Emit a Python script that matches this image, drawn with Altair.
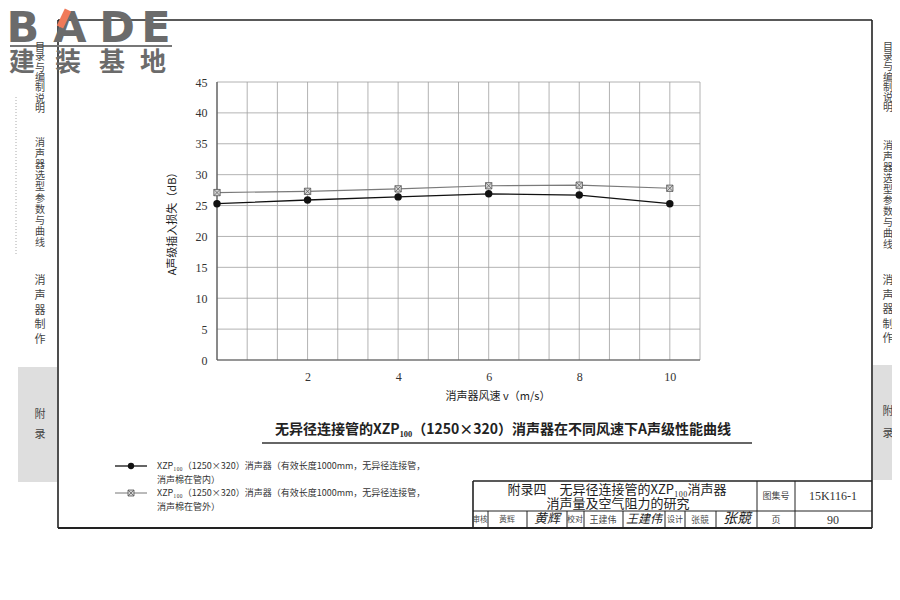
import altair as alt
import pandas as pd

# ---------------- data ----------------
speed = [0, 2, 4, 6, 8, 10]
loss_inside = [25.3, 25.9, 26.4, 26.9, 26.7, 25.3]
loss_outside = [27.1, 27.3, 27.7, 28.2, 28.3, 27.8]
x_tick_values = [2, 4, 6, 8, 10]
y_tick_values = [0, 5, 10, 15, 20, 25, 30, 35, 40, 45]
x_max = 32 / 3
x_grid_values = [i * 2 / 3 for i in range(17)]

x_title = "消声器风速 v（m/s）"
y_title = "A声级插入损失（dB）"
caption = "无异径连接管的XZP₁₀₀（1250×320）消声器在不同风速下A声级性能曲线"
legend_line1 = "XZP₁₀₀（1250×320）消声器（有效长度1000mm，无异径连接管，"
legend_inside = "消声棉在管内）"
legend_outside = "消声棉在管外）"

CJK = "Noto Sans CJK SC"
SERIF = "Liberation Serif"

# ---------------- layout (page pixels) ----------------
PX0, PY0 = 217, 82          # plot origin on page
W, H = 483, 278             # plot size
PAD = {"left": PX0 - 8, "top": PY0 - 8, "right": 884 - (PX0 - 8) - W, "bottom": 584 - (PY0 - 8) - H}

one = pd.DataFrame({"k": [0]})
decor = []


def P(x, y):
    return x - PX0, y - PY0


def text(x, y, t, size=10, font=CJK, color="#333", align="center", angle=0,
         weight="normal", style="normal", baseline="middle", line_height=None):
    dx, dy = P(x, y)
    kw = dict(text=t, fontSize=size, font=font, color=color, align=align,
              baseline=baseline, angle=angle, fontWeight=weight, fontStyle=style)
    if line_height:
        kw["lineBreak"] = "\n"
        kw["lineHeight"] = line_height
    decor.append(alt.Chart(one).mark_text(**kw).encode(x=alt.value(dx), y=alt.value(dy)))


def rule(x1, y1, x2, y2, color="#222", w=1.0, dash=None):
    a, b = P(x1, y1)
    c, d = P(x2, y2)
    kw = dict(color=color, strokeWidth=w)
    if dash:
        kw["strokeDash"] = dash
    decor.append(
        alt.Chart(one).mark_rule(**kw)
        .encode(x=alt.value(a), y=alt.value(b), x2=alt.value(c), y2=alt.value(d))
    )


def rect(x1, y1, x2, y2, fill):
    a, b = P(x1, y1)
    c, d = P(x2, y2)
    decor.append(
        alt.Chart(one).mark_rect(color=fill)
        .encode(x=alt.value(a), y=alt.value(b), x2=alt.value(c), y2=alt.value(d))
    )


def vtext(x, y0, step, s, size=10):
    # first line is centred at y0, following lines step downward
    text(x, y0, "\n".join(s), size=size, color="#444", line_height=step)


def marker(x, y, **kw):
    dx, dy = P(x, y)
    decor.append(alt.Chart(one).mark_point(opacity=1, **kw)
                 .encode(x=alt.value(dx), y=alt.value(dy)))


# ---------------- plot layers ----------------
xs = alt.Scale(domain=[0, x_max], nice=False, zero=False)
ys = alt.Scale(domain=[0, 45], nice=False, zero=False)
xaxis = alt.Axis(values=x_tick_values, title=None, grid=False, ticks=False, domain=False,
                 labelFont=SERIF, labelFontSize=12, labelColor="#333", labelPadding=11)
yaxis = alt.Axis(values=y_tick_values, title=None, grid=False, ticks=False, domain=False,
                 labelFont=SERIF, labelFontSize=12, labelColor="#333", labelPadding=10)

df_in = pd.DataFrame({"v": speed, "loss": loss_inside})
df_out = pd.DataFrame({"v": speed, "loss": loss_outside})

grid_v = alt.Chart(pd.DataFrame({"g": x_grid_values})).mark_rule(
    color="#a0a0a0", strokeWidth=0.8).encode(x=alt.X("g:Q", scale=xs, axis=xaxis))
grid_h = alt.Chart(pd.DataFrame({"h": y_tick_values})).mark_rule(
    color="#a0a0a0", strokeWidth=0.8).encode(y=alt.Y("h:Q", scale=ys, axis=yaxis))
border_l = alt.Chart(pd.DataFrame({"g": [0]})).mark_rule(
    color="#555", strokeWidth=1.2).encode(x=alt.X("g:Q", scale=xs, axis=xaxis))
border_b = alt.Chart(pd.DataFrame({"h": [0]})).mark_rule(
    color="#555", strokeWidth=1.2).encode(y=alt.Y("h:Q", scale=ys, axis=yaxis))

XPATH = "M-1,-1L1,1M1,-1L-1,1"
enc = dict(x=alt.X("v:Q", scale=xs, axis=xaxis), y=alt.Y("loss:Q", scale=ys, axis=yaxis))
line_out = alt.Chart(df_out).mark_line(color="#7a7a7a", strokeWidth=1.1).encode(**enc)
sq_out = alt.Chart(df_out).mark_point(shape="square", filled=True, fill="#d4d4d4",
                                      stroke="#555", strokeWidth=0.8, size=40,
                                      opacity=1).encode(**enc)
x_out = alt.Chart(df_out).mark_point(shape=XPATH, filled=False,
                                     color="#555", strokeWidth=0.7, size=40,
                                     opacity=1).encode(**enc)
line_in = alt.Chart(df_in).mark_line(color="#111", strokeWidth=1.3).encode(**enc)
pts_in = alt.Chart(df_in).mark_point(shape="circle", filled=True, color="#111",
                                     size=55, opacity=1).encode(**enc)

# ---------------- decorations ----------------
# page frame
rule(58, 20, 872, 20, w=1.6)
rule(58, 20, 58, 528, w=1.6)
rule(872, 20, 872, 528, w=1.6)
rule(58, 528, 872, 528, w=1.8)

# logo
for cx, ch in zip([23, 70, 117, 156], "BADE"):
    text(cx, 42, ch, size=43, font="DejaVu Sans", weight="bold", color="#6b6b6b",
         baseline="alphabetic")
rule(60, 27, 68, 10, color="#f07a5a", w=7)
rule(10, 46, 172, 46, color="#777", w=2)
for cx, ch in zip([22, 68, 112, 153], "建装基地"):
    text(cx, 63, ch, size=26, weight="bold", color="#6b6b6b")

# side tabs
rule(16, 97, 16, 255, color="#aaa", w=1, dash=[1, 2])
rect(18, 367, 57, 482, "#dedede")
vtext(40, 47, 10.3, "目录与编制说明")
vtext(40, 143, 11.1, "消声器选型参数与曲线")
vtext(40, 281, 14.8, "消声器制作", size=11)
vtext(40, 415, 20, "附录", size=11)
rect(873, 365, 895, 480, "#dedede")
vtext(888, 47, 10.2, "目录与编制说明")
vtext(888, 146, 11.0, "消声器选型参数与曲线")
vtext(888, 281, 14.5, "消声器制作", size=11)
vtext(888, 412, 22, "附录", size=11)

# axis titles
text(498, 397, x_title, size=11, color="#222")
text(173, 221, y_title, size=11, color="#222", angle=270)

# caption
text(503, 430, caption, size=14, weight="bold", color="#222")
rule(262, 443, 752, 443, color="#333", w=1.5)

# legend
rule(115, 466, 147, 466, color="#111", w=1.3)
marker(131, 466, shape="circle", filled=True, color="#111", size=40)
text(157, 466, legend_line1, size=9, align="left")
text(157, 480, legend_inside, size=9, align="left")
rule(115, 493, 147, 493, color="#777", w=1.0)
marker(131, 493, shape="square", filled=True, fill="#d4d4d4", stroke="#555",
       strokeWidth=0.8, size=36)
marker(131, 493, shape=XPATH, filled=False, color="#555", strokeWidth=0.7, size=36)
text(157, 493, legend_line1, size=9, align="left")
text(157, 507, legend_outside, size=9, align="left")

# title block
rule(473, 481, 872, 481, w=1.6)
rule(473, 511, 872, 511, w=1.0)
rule(473, 481, 473, 528, w=1.6)
rule(757, 481, 757, 528, w=1.0)
rule(795, 481, 795, 528, w=1.0)
for vx in [488, 527, 567, 584, 623, 665, 685, 716]:
    rule(vx, 511, vx, 528, w=1.0)
text(617, 490, "附录四　无异径连接管的XZP₁₀₀消声器", size=13, color="#222")
text(618, 504, "消声量及空气阻力的研究", size=13, color="#222")
text(776, 496, "图集号", size=9, color="#444")
text(833, 496, "15K116-1", size=12, font=SERIF, color="#333")
text(776, 520, "页", size=9, color="#444")
text(833, 520, "90", size=12, font=SERIF, color="#333")
text(480, 520, "审核", size=7.5, color="#444")
text(507, 520, "黄辉", size=8, color="#555")
text(547, 519, "黄辉", size=13, style="italic", color="#222")
text(575, 520, "校对", size=8, color="#444")
text(603, 520, "王建伟", size=9, color="#444")
text(644, 519, "王建伟", size=12, style="italic", color="#222")
text(675, 520, "设计", size=8, color="#444")
text(700, 520, "张競", size=9, color="#555")
text(737, 519, "张競", size=14, style="italic", color="#222")

chart = alt.layer(
    grid_v, grid_h, border_l, border_b,
    line_out, sq_out, x_out, line_in, pts_in,
    *decor
).properties(
    width=W, height=H,
    autosize=alt.AutoSizeParams(type="none"),
    padding=PAD,
    background="white",
).configure_view(stroke=None)

chart.save("out.html", embed_options={"renderer": "svg", "actions": False})
